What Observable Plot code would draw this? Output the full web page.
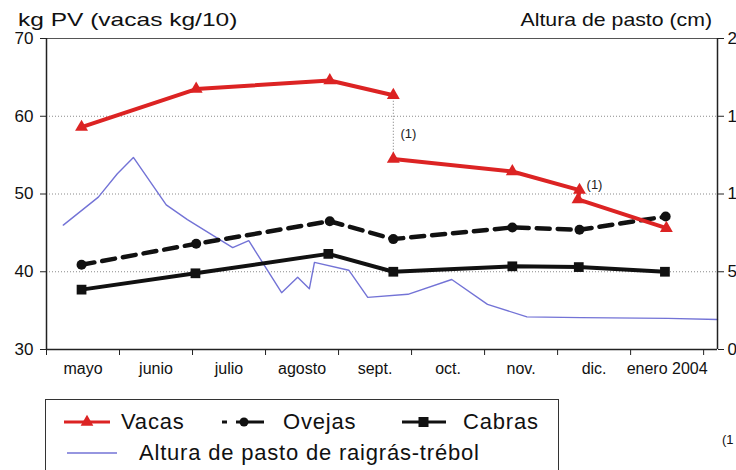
<!DOCTYPE html>
<html><head><meta charset="utf-8">
<script src="https://cdn.jsdelivr.net/npm/d3@7"></script>
<script src="https://cdn.jsdelivr.net/npm/@observablehq/plot@0.6"></script>
<style>
body{margin:0;width:736px;height:470px;overflow:hidden;position:relative;background:#fff;font-family:"Liberation Sans",Arial,sans-serif;color:#111}
#chart{position:absolute;left:0;top:0}
.ttl{position:absolute;font-size:19px;white-space:nowrap;line-height:20px}
#legend{position:absolute;left:45px;top:399px;width:514px;height:100px;border:1px solid #333;box-sizing:border-box}
.li{position:absolute;font-size:22px;letter-spacing:0.8px;line-height:22px;white-space:nowrap}
#nota{position:absolute;left:722px;top:432px;font-size:13px}
</style></head><body>
<div id="chart"></div>
<div class="ttl" style="left:18px;top:10px;transform-origin:left;transform:scaleX(1.29)">kg PV (vacas kg/10)</div>
<div class="ttl" style="right:24px;top:10px;transform-origin:right;transform:scaleX(1.12)">Altura de pasto (cm)</div>
<div id="legend"></div>
<div id="nota">(1</div>
<script>
// categorías (meses) y etiquetas
const meses = ["mayo","junio","julio","agosto","sept.","oct.","nov.","dic.","enero 2004"];
const ticksMes = [0,1,2,3,4,5,6,7,8,9];
const ticksKg = [30,40,50,60,70];

// Vacas (kg PV / 10), two tramos
const vacasMes = [0.48, 2.05, 3.88, 4.75, 4.75, 6.38, 7.30, 7.28, 8.49];
const vacasKg  = [58.6, 63.5, 64.6, 62.7, 54.5, 52.9, 50.5, 49.3, 45.6];
const vacasTramo = [1, 1, 1, 1, 2, 2, 2, 2, 2];

// Ovejas
const ovejasMes = [0.48, 2.05, 3.88, 4.75, 6.38, 7.30, 8.48];
const ovejasKg  = [40.9, 43.6, 46.5, 44.2, 45.7, 45.4, 47.1];

// Cabras
const cabrasMes = [0.48, 2.04, 3.86, 4.75, 6.38, 7.29, 8.47];
const cabrasKg  = [37.7, 39.8, 42.3, 40.0, 40.7, 40.6, 40.0];

// Altura de pasto de raigrás-trébol (cm, right axis)
const pastoMes = [0.23, 0.71, 0.97, 1.19, 1.64, 1.93, 2.55, 2.77, 3.22, 3.44, 3.60, 3.67, 4.14, 4.40, 4.95, 5.55, 6.04, 6.58, 7.32, 8.51, 9.19];
const pastoCm  = [8.0, 9.8, 11.3, 12.35, 9.3, 8.35, 6.55, 7.0, 3.65, 4.65, 3.9, 5.6, 5.1, 3.35, 3.55, 4.5, 2.9, 2.1, 2.05, 2.0, 1.93];

// annotations "(1)"
const notaMes = [4.75, 7.30];
const notaKg  = [57.7, 51.2];

const vacas = vacasMes.map((m,i)=>({m, v:vacasKg[i], t:vacasTramo[i]}));
const ovejas = ovejasMes.map((m,i)=>({m, v:ovejasKg[i]}));
const cabras = cabrasMes.map((m,i)=>({m, v:cabrasKg[i]}));
// right axis: 0–20 cm mapped onto 30–70
const pasto = pastoMes.map((m,i)=>({m, v:30 + 2*pastoCm[i]}));
const notas = notaMes.map((m,i)=>({m, v:notaKg[i]}));
const salto = [{m:vacasMes[3], v1:vacasKg[3], v2:vacasKg[4]}];

const RED = "#dc2323", BLUE = "#7373d6", AX = "#222";

const chart = Plot.plot({
  width: 736, height: 390,
  marginLeft: 46, marginRight: 19, marginTop: 38, marginBottom: 41,
  style: {fontFamily: '"Liberation Sans", Arial, sans-serif', background: "#fff", color: "#111"},
  x: {type: "linear", domain: [0, 9.19]},
  y: {domain: [30, 70]},
  marks: [
    Plot.ruleY([40, 50, 60], {stroke: "#8a8a8a", strokeDasharray: "1,2", strokeWidth: 1}),
    Plot.ruleY([70], {stroke: "#555", strokeWidth: 1}),
    Plot.ruleX(salto, {x: "m", y1: "v1", y2: "v2", stroke: "#777", strokeDasharray: "1,2", strokeWidth: 1}),
    Plot.line(pasto, {x: "m", y: "v", stroke: BLUE, strokeWidth: 1.4}),
    Plot.line(cabras, {x: "m", y: "v", stroke: "#111", strokeWidth: 4}),
    Plot.dot(cabras, {x: "m", y: "v", symbol: "square", r: 5.5, fill: "#111"}),
    Plot.line(ovejas, {x: "m", y: "v", stroke: "#111", strokeWidth: 4.5, strokeDasharray: "13,8"}),
    Plot.dot(ovejas, {x: "m", y: "v", symbol: "circle", r: 5, fill: "#111"}),
    Plot.line(vacas, {x: "m", y: "v", z: "t", stroke: RED, strokeWidth: 4}),
    Plot.dot(vacas, {x: "m", y: "v", symbol: "triangle", r: 4.8, fill: RED}),
    Plot.text(notas, {x: "m", y: "v", text: () => "(1)", dx: 15, fontSize: 13, fill: "#222"}),
    Plot.ruleY([30], {stroke: AX, strokeWidth: 1.5}),
    Plot.ruleX([0, 9.19], {stroke: AX, strokeWidth: 1.5}),
    Plot.axisY({anchor: "left", ticks: ticksKg, tickSize: 6, tickPadding: 7, fontSize: 17, label: null, stroke: AX}),
    Plot.axisY({anchor: "right", ticks: ticksKg, tickFormat: d => String((d - 30) / 2), tickSize: 6, tickPadding: 4, fontSize: 17, label: null, stroke: AX}),
    Plot.axisX({ticks: ticksMes, tickSize: 6, tickFormat: () => "", label: null, stroke: AX}),
    Plot.axisX({ticks: meses.map((d,i)=>i+0.5), tickSize: 0, tickPadding: 13, tickFormat: (d) => meses[Math.round(d - 0.5)], fontSize: 16, label: null})
  ]
});
document.getElementById("chart").appendChild(chart);

// legend
const lg = document.getElementById("legend");
function sym(kind){
  const s = d3.create("svg").attr("width", 50).attr("height", 16);
  if(kind==="vacas"){
    s.append("line").attr("x1",0).attr("x2",46).attr("y1",8).attr("y2",8).attr("stroke",RED).attr("stroke-width",3);
    s.append("path").attr("d", d3.symbol(d3.symbolTriangle, 70)()).attr("transform","translate(23,8)").attr("fill",RED);
  } else if(kind==="ovejas"){
    s.append("line").attr("x1",0).attr("x2",42).attr("y1",8).attr("y2",8).attr("stroke","#111").attr("stroke-width",3).attr("stroke-dasharray","5,9,28");
    s.append("circle").attr("cx",22).attr("cy",8).attr("r",4.5).attr("fill","#111");
  } else if(kind==="cabras"){
    s.append("line").attr("x1",0).attr("x2",44).attr("y1",8).attr("y2",8).attr("stroke","#111").attr("stroke-width",3);
    s.append("rect").attr("x",16.5).attr("y",3).attr("width",10).attr("height",10).attr("fill","#111");
  } else {
    s.append("line").attr("x1",0).attr("x2",55).attr("y1",8).attr("y2",8).attr("stroke",BLUE).attr("stroke-width",1.4);
  }
  return s.node();
}
const items = [
  {k:"vacas", t:"Vacas", sx:18, tx:75, y:11},
  {k:"ovejas", t:"Ovejas", sx:176, tx:237, y:11},
  {k:"cabras", t:"Cabras", sx:356, tx:417, y:11},
  {k:"pasto", t:"Altura de pasto de raigrás-trébol", sx:21, tx:93, y:42}
];
items.forEach(it=>{
  const sv = sym(it.k);
  sv.style.position="absolute"; sv.style.left=it.sx+"px"; sv.style.top=(it.y+3)+"px";
  lg.appendChild(sv);
  const d = document.createElement("div");
  d.className="li"; d.textContent=it.t; d.style.left=it.tx+"px"; d.style.top=it.y+"px";
  lg.appendChild(d);
});
</script>
</body></html>
